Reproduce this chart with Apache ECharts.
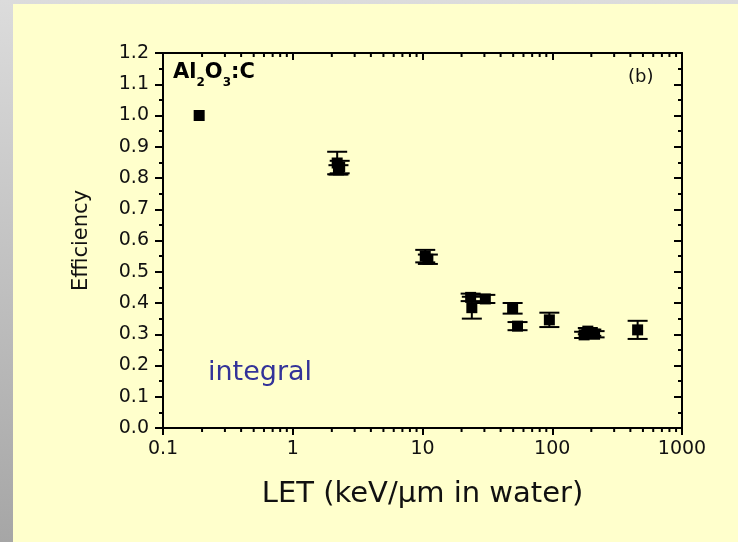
<!DOCTYPE html>
<html><head><meta charset="utf-8">
<script src="https://cdn.jsdelivr.net/npm/echarts@6/dist/echarts.min.js"></script>
<style>
html,body{margin:0;padding:0;width:738px;height:542px;overflow:hidden;}
body{background:linear-gradient(#dcdcdc,#a6a6a6);}
#c{position:absolute;left:13px;top:4px;width:725px;height:538px;background:#FFFFCC;}
</style></head><body><div id="c"></div>
<script>
// LET (keV/um in water) and measured efficiency with error (+/-)
const letValues  = [0.19, 2.2, 2.3, 2.25, 10.5, 11, 23.5, 24, 30.5, 49.5, 54, 95, 176, 188, 200, 212, 455];
const efficiency = [1.0, 0.848, 0.835, 0.826, 0.55, 0.54, 0.418, 0.385, 0.413, 0.383, 0.326, 0.346, 0.298, 0.31, 0.305, 0.30, 0.314];
const errors     = [0.0, 0.036, 0.02, 0.015, 0.02, 0.015, 0.012, 0.035, 0.013, 0.017, 0.013, 0.023, 0.01, 0.01, 0.01, 0.01, 0.029];
const xTickLabels = ['0.1', '1', '10', '100', '1000'];
const yTickLabels = ['0.0','0.1','0.2','0.3','0.4','0.5','0.6','0.7','0.8','0.9','1.0','1.1','1.2'];
const xMinorTicks = [0.2,0.3,0.4,0.5,0.6,0.7,0.8,0.9, 2,3,4,5,6,7,8,9, 20,30,40,50,60,70,80,90, 200,300,400,500,600,700,800,900];

const FONT = 'DejaVu Sans';
const pts = letValues.map((x, i) => [x, efficiency[i]]);
const errData = letValues.map((x, i) => [x, efficiency[i], errors[i]]);

function fmtX(v) {
  const s = String(Number(v.toPrecision(6)));
  return xTickLabels.indexOf(s) >= 0 ? s : '';
}
function fmtY(v) {
  const s = v.toFixed(1);
  return yTickLabels.indexOf(s) >= 0 ? s : '';
}

const chart = echarts.init(document.getElementById('c'), null, {renderer: 'canvas'});
const axisLine = {show: true, onZero: false, lineStyle: {color: '#000', width: 2}};
chart.setOption({
  animation: false,
  backgroundColor: 'transparent',
  grid: {left: 150, top: 49, width: 519, height: 375, containLabel: false},
  xAxis: [{
    type: 'log', logBase: 10, min: 0.1, max: 1000, position: 'bottom',
    name: 'LET (keV/\u03bcm in water)', nameLocation: 'middle', nameGap: 52,
    nameTextStyle: {fontFamily: FONT, fontSize: 29, color: '#111'},
    axisLine: axisLine,
    axisTick: {show: true, inside: false, length: 7, lineStyle: {color: '#000', width: 2}},
    axisLabel: {show: true, margin: 12, fontFamily: FONT, fontSize: 19, color: '#111', formatter: fmtX},
    splitLine: {show: false}, minorTick: {show: false}
  }, {
    type: 'log', logBase: 10, min: 0.1, max: 1000, position: 'top',
    axisLine: axisLine,
    axisTick: {show: true, inside: true, length: 7, lineStyle: {color: '#000', width: 2}},
    axisLabel: {show: false}, splitLine: {show: false}
  }],
  yAxis: [{
    type: 'value', min: 0, max: 1.2, interval: 0.1, position: 'left',
    name: 'Efficiency', nameLocation: 'middle', nameGap: 71, nameRotate: 90,
    nameTextStyle: {fontFamily: FONT, fontSize: 21, color: '#111'},
    axisLine: axisLine,
    axisTick: {show: true, inside: false, length: 8, lineStyle: {color: '#000', width: 2}},
    minorTick: {show: true, splitNumber: 2, length: 4, lineStyle: {color: '#000', width: 2}},
    axisLabel: {show: true, margin: 14, fontFamily: FONT, fontSize: 19, color: '#111', formatter: fmtY},
    splitLine: {show: false}
  }, {
    type: 'value', min: 0, max: 1.2, interval: 0.1, position: 'right',
    axisLine: axisLine,
    axisTick: {show: true, inside: true, length: 8, lineStyle: {color: '#000', width: 2}},
    minorTick: {show: true, splitNumber: 2, length: 4, lineStyle: {color: '#000', width: 2}},
    axisLabel: {show: false}, splitLine: {show: false}
  }],
  graphic: [{
    type: 'text', left: 160, top: 58, z: 100,
    style: {
      text: '{b|Al}{s|2}{b|O}{s|3}{b|:C}',
      rich: {
        b: {fontFamily: FONT, fontWeight: 'bold', fontSize: 21, fill: '#000'},
        s: {fontFamily: FONT, fontWeight: 'bold', fontSize: 12, fill: '#000', padding: [20, 0, 0, 0]}
      }
    }
  }, {
    type: 'text', x: 615, y: 73, z: 100,
    style: {text: '(b)', fontFamily: FONT, fontSize: 18, fill: '#111', textVerticalAlign: 'middle'}
  }, {
    type: 'text', x: 195, y: 369, z: 100,
    style: {text: 'integral', fontFamily: FONT, fontSize: 27, fill: '#333399', textVerticalAlign: 'middle'}
  }],
  series: [{
    type: 'custom', xAxisIndex: 0, yAxisIndex: 0, silent: true, z: 3,
    data: xMinorTicks.map(v => [v, 0]),
    renderItem: function (params, api) {
      const v = api.value(0);
      const b = api.coord([v, 0]);
      const t = api.coord([v, 1.2]);
      const st = {stroke: '#000', lineWidth: 2};
      return {type: 'group', children: [
        {type: 'line', shape: {x1: b[0], y1: b[1], x2: b[0], y2: b[1] + 4}, style: st},
        {type: 'line', shape: {x1: t[0], y1: t[1], x2: t[0], y2: t[1] + 4}, style: st}
      ]};
    }
  }, {
    type: 'custom', xAxisIndex: 0, yAxisIndex: 0, silent: true, z: 4,
    data: errData,
    renderItem: function (params, api) {
      const x = api.value(0), y = api.value(1), e = api.value(2);
      if (!e) return null;
      const top = api.coord([x, y + e]);
      const bot = api.coord([x, y - e]);
      const hw = 10;
      const st = {stroke: '#000', lineWidth: 2};
      return {type: 'group', children: [
        {type: 'line', shape: {x1: top[0], y1: top[1], x2: bot[0], y2: bot[1]}, style: st},
        {type: 'line', shape: {x1: top[0] - hw, y1: top[1], x2: top[0] + hw, y2: top[1]}, style: st},
        {type: 'line', shape: {x1: bot[0] - hw, y1: bot[1], x2: bot[0] + hw, y2: bot[1]}, style: st}
      ]};
    }
  }, {
    type: 'scatter', xAxisIndex: 0, yAxisIndex: 0, z: 5,
    symbol: 'rect', symbolSize: 11,
    itemStyle: {color: '#000', opacity: 1},
    data: pts
  }]
});
</script>
</body></html>
